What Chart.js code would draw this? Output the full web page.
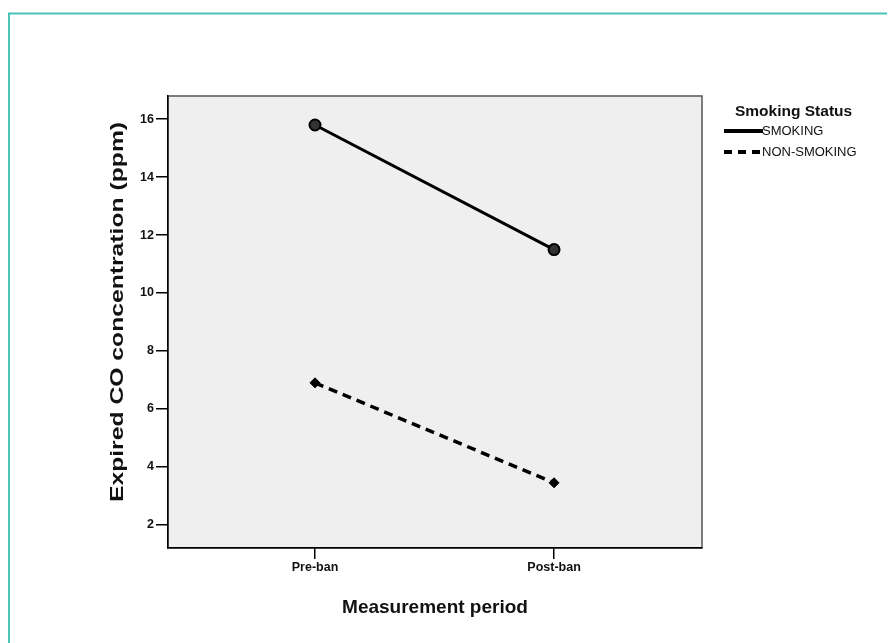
<!DOCTYPE html>
<html>
<head>
<meta charset="utf-8">
<script src="https://cdn.jsdelivr.net/npm/chart.js@4/dist/chart.umd.min.js"></script>
<style>
html,body{margin:0;padding:0;background:#fff;}
#wrap{width:888px;height:643px;position:relative;}
</style>
</head>
<body>
<div id="wrap"><canvas id="c" width="888" height="643"></canvas></div>
<script>
const categories = ['Pre-ban', 'Post-ban'];
const smoking = [15.8, 11.5];
const nonSmoking = [6.9, 3.45];
const seriesLabels = ['SMOKING', 'NON-SMOKING'];
const legendTitle = 'Smoking Status';
const yTicks = [2, 4, 6, 8, 10, 12, 14, 16];
const xTitle = 'Measurement period';
const yTitle = 'Expired CO concentration (ppm)';

const FONT = 'Liberation Sans, Arial, sans-serif';
const PAD_L = 20, PAD_B = 20;
const AREA = {left: 168, right: 702, top: 96, bottom: 548};

const decor = {
  id: 'decor',
  beforeDraw(chart) {
    const ctx = chart.ctx, a = chart.chartArea;
    ctx.save();
    ctx.fillStyle = '#fff';
    ctx.fillRect(0, 0, chart.width, chart.height);
    ctx.strokeStyle = '#4cc4b8';
    ctx.lineWidth = 2;
    ctx.beginPath();
    ctx.moveTo(9, 643);
    ctx.lineTo(9, 13.5);
    ctx.lineTo(887, 13.5);
    ctx.stroke();
    ctx.fillStyle = '#efefef';
    ctx.fillRect(a.left, a.top, a.right - a.left, a.bottom - a.top);
    ctx.strokeStyle = '#555';
    ctx.lineWidth = 1.5;
    ctx.strokeRect(a.left, a.top, a.right - a.left, a.bottom - a.top);
    ctx.restore();
  },
  afterDraw(chart) {
    const ctx = chart.ctx, a = chart.chartArea;
    ctx.save();
    ctx.translate(118, (a.top + a.bottom) / 2 - 10);
    ctx.rotate(-Math.PI / 2);
    ctx.scale(1.3, 1);
    ctx.fillStyle = '#111';
    ctx.textAlign = 'center';
    ctx.textBaseline = 'middle';
    ctx.font = 'bold 19px ' + FONT;
    ctx.fillText(yTitle, 0, 0);
    ctx.restore();

    ctx.save();
    ctx.fillStyle = '#111';
    ctx.textBaseline = 'middle';
    ctx.font = 'bold 15.5px ' + FONT;
    ctx.fillText(legendTitle, 735, 112);
    ctx.font = '13px ' + FONT;
    const rows = [131, 152];
    chart.data.datasets.forEach((ds, i) => {
      const y = rows[i];
      ctx.strokeStyle = '#000';
      ctx.lineWidth = 4;
      ctx.setLineDash(ds.borderDash ? [8, 6] : []);
      ctx.beginPath();
      ctx.moveTo(724, y);
      ctx.lineTo(763, y);
      ctx.stroke();
      ctx.setLineDash([]);
      ctx.fillStyle = '#111';
      ctx.fillText(ds.label, 762, y);
    });
    ctx.restore();
  }
};

new Chart(document.getElementById('c'), {
  type: 'line',
  data: {
    datasets: [
      {
        label: seriesLabels[0],
        data: smoking.map((v, i) => ({x: i, y: v})),
        borderColor: '#000',
        borderWidth: 3,
        pointRadius: 5.5,
        pointBackgroundColor: '#333',
        pointBorderColor: '#000',
        pointBorderWidth: 2
      },
      {
        label: seriesLabels[1],
        data: nonSmoking.map((v, i) => ({x: i, y: v})),
        borderColor: '#000',
        borderWidth: 3.5,
        borderDash: [9, 6],
        pointRadius: 5,
        pointStyle: 'rectRot',
        pointBackgroundColor: '#000',
        pointBorderColor: '#000',
        pointBorderWidth: 1
      }
    ]
  },
  options: {
    responsive: false,
    animation: false,
    devicePixelRatio: 1,
    layout: {padding: {left: PAD_L, right: 888 - AREA.right, top: AREA.top, bottom: PAD_B}},
    plugins: {legend: {display: false}, tooltip: {enabled: false}},
    scales: {
      x: {
        type: 'linear',
        min: -0.615,
        max: 1.619,
        afterBuildTicks(s) { s.ticks = categories.map((c, i) => ({value: i})); },
        afterFit(s) { s.height = 643 - AREA.bottom - PAD_B; },
        ticks: {
          callback: (v) => categories[v] ?? '',
          color: '#111',
          font: {family: FONT, size: 12.5, weight: 'bold'},
          padding: 1,
          maxRotation: 0
        },
        grid: {drawOnChartArea: false, tickLength: 11, color: '#000', lineWidth: 1.5},
        border: {color: '#000', width: 1.5},
        title: {display: true, text: xTitle, color: '#111', font: {family: FONT, size: 19, weight: 'bold'}, padding: {top: 9}}
      },
      y: {
        min: 1.2,
        max: 16.8,
        afterBuildTicks(s) { s.ticks = yTicks.map(v => ({value: v})); },
        afterFit(s) { s.width = AREA.left - PAD_L; },
        ticks: {
          color: '#111',
          font: {family: FONT, size: 12.5, weight: 'bold'},
          padding: 2
        },
        grid: {drawOnChartArea: false, tickLength: 12, color: '#000', lineWidth: 1.5},
        border: {color: '#000', width: 1.5},
        title: {display: false}
      }
    }
  },
  plugins: [decor]
});
</script>
</body>
</html>
